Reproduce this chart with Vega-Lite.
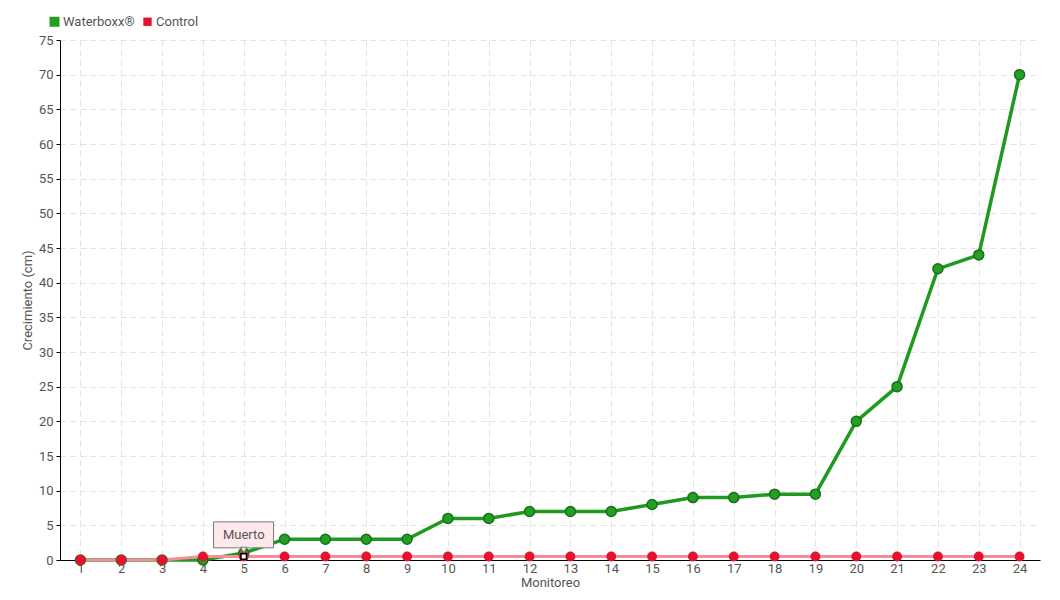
{
  "$schema": "https://vega.github.io/schema/vega-lite/v6.json",
  "width": 980,
  "height": 520,
  "autosize": {"type": "none"},
  "padding": {"left": 60, "top": 40, "right": 20, "bottom": 40},
  "background": "white",
  "config": {
    "font": "Roboto",
    "view": {"stroke": null},
    "axis": {"labelFont": "Roboto", "titleFont": "Roboto", "labelColor": "#555", "titleColor": "#555", "labelFontSize": 13, "titleFontSize": 13, "titleFontWeight": "normal", "gridColor": "#e3e3e3", "gridDash": [6, 4], "gridWidth": 1, "domainColor": "#000", "tickColor": "#000"}
  },
  "datasets": {
    "main": [
      {"Monitoreo": 1, "Serie": "Waterboxx®", "Valor": 0},
      {"Monitoreo": 2, "Serie": "Waterboxx®", "Valor": 0},
      {"Monitoreo": 3, "Serie": "Waterboxx®", "Valor": 0},
      {"Monitoreo": 4, "Serie": "Waterboxx®", "Valor": 0},
      {"Monitoreo": 5, "Serie": "Waterboxx®", "Valor": 1},
      {"Monitoreo": 6, "Serie": "Waterboxx®", "Valor": 3},
      {"Monitoreo": 7, "Serie": "Waterboxx®", "Valor": 3},
      {"Monitoreo": 8, "Serie": "Waterboxx®", "Valor": 3},
      {"Monitoreo": 9, "Serie": "Waterboxx®", "Valor": 3},
      {"Monitoreo": 10, "Serie": "Waterboxx®", "Valor": 6},
      {"Monitoreo": 11, "Serie": "Waterboxx®", "Valor": 6},
      {"Monitoreo": 12, "Serie": "Waterboxx®", "Valor": 7},
      {"Monitoreo": 13, "Serie": "Waterboxx®", "Valor": 7},
      {"Monitoreo": 14, "Serie": "Waterboxx®", "Valor": 7},
      {"Monitoreo": 15, "Serie": "Waterboxx®", "Valor": 8},
      {"Monitoreo": 16, "Serie": "Waterboxx®", "Valor": 9},
      {"Monitoreo": 17, "Serie": "Waterboxx®", "Valor": 9},
      {"Monitoreo": 18, "Serie": "Waterboxx®", "Valor": 9.5},
      {"Monitoreo": 19, "Serie": "Waterboxx®", "Valor": 9.5},
      {"Monitoreo": 20, "Serie": "Waterboxx®", "Valor": 20},
      {"Monitoreo": 21, "Serie": "Waterboxx®", "Valor": 25},
      {"Monitoreo": 22, "Serie": "Waterboxx®", "Valor": 42},
      {"Monitoreo": 23, "Serie": "Waterboxx®", "Valor": 44},
      {"Monitoreo": 24, "Serie": "Waterboxx®", "Valor": 70},
      {"Monitoreo": 1, "Serie": "Control", "Valor": 0},
      {"Monitoreo": 2, "Serie": "Control", "Valor": 0},
      {"Monitoreo": 3, "Serie": "Control", "Valor": 0},
      {"Monitoreo": 4, "Serie": "Control", "Valor": 0.5},
      {"Monitoreo": 5, "Serie": "Control", "Valor": 0.5},
      {"Monitoreo": 6, "Serie": "Control", "Valor": 0.5},
      {"Monitoreo": 7, "Serie": "Control", "Valor": 0.5},
      {"Monitoreo": 8, "Serie": "Control", "Valor": 0.5},
      {"Monitoreo": 9, "Serie": "Control", "Valor": 0.5},
      {"Monitoreo": 10, "Serie": "Control", "Valor": 0.5},
      {"Monitoreo": 11, "Serie": "Control", "Valor": 0.5},
      {"Monitoreo": 12, "Serie": "Control", "Valor": 0.5},
      {"Monitoreo": 13, "Serie": "Control", "Valor": 0.5},
      {"Monitoreo": 14, "Serie": "Control", "Valor": 0.5},
      {"Monitoreo": 15, "Serie": "Control", "Valor": 0.5},
      {"Monitoreo": 16, "Serie": "Control", "Valor": 0.5},
      {"Monitoreo": 17, "Serie": "Control", "Valor": 0.5},
      {"Monitoreo": 18, "Serie": "Control", "Valor": 0.5},
      {"Monitoreo": 19, "Serie": "Control", "Valor": 0.5},
      {"Monitoreo": 20, "Serie": "Control", "Valor": 0.5},
      {"Monitoreo": 21, "Serie": "Control", "Valor": 0.5},
      {"Monitoreo": 22, "Serie": "Control", "Valor": 0.5},
      {"Monitoreo": 23, "Serie": "Control", "Valor": 0.5},
      {"Monitoreo": 24, "Serie": "Control", "Valor": 0.5}
    ],
    "note": [
      {"x1": 4.26, "x2": 5.73, "y1": 1.75, "y2": 5.5, "xm": 5, "ym": 3.6, "label": "Muerto", "yp": 1.45, "yd": 0.5}
    ]
  },
  "encoding": {
    "x": {"type": "quantitative", "scale": {"domain": [0.5, 24.5], "nice": false, "zero": false},
      "axis": {"values": [1,2,3,4,5,6,7,8,9,10,11,12,13,14,15,16,17,18,19,20,21,22,23,24], "tickCount": 30, "title": "Monitoreo", "ticks": false, "labelPadding": 2, "titlePadding": 1, "grid": true}},
    "y": {"type": "quantitative", "scale": {"domain": [0, 75], "nice": false, "zero": true},
      "axis": {"values": [0,5,10,15,20,25,30,35,40,45,50,55,60,65,70,75], "tickCount": 20, "title": "Crecimiento (cm)", "tickSize": 4, "labelPadding": 3, "titlePadding": 4, "grid": true, "labelOverlap": false}}
  },
  "layer": [
    {
      "data": {"name": "main"},
      "transform": [{"filter": "datum.Serie === 'Waterboxx®'"}],
      "mark": {"type": "line", "color": "#1f9a1f", "strokeWidth": 3.5},
      "encoding": {
        "x": {"field": "Monitoreo"},
        "y": {"field": "Valor"}
      }
    },
    {
      "data": {"name": "main"},
      "transform": [{"filter": "datum.Serie === 'Control'"}],
      "mark": {"type": "line", "color": "#f58d98", "strokeWidth": 3},
      "encoding": {
        "x": {"field": "Monitoreo"},
        "y": {"field": "Valor"}
      }
    },
    {
      "data": {"name": "main"},
      "mark": {"type": "point", "filled": true, "opacity": 1, "strokeWidth": 1.5},
      "encoding": {
        "x": {"field": "Monitoreo"},
        "y": {"field": "Valor"},
        "order": {"field": "Serie", "sort": "descending"},
        "size": {"field": "Serie", "type": "nominal", "scale": {"domain": ["Waterboxx®", "Control"], "range": [100, 70]}, "legend": null},
        "color": {"field": "Serie", "type": "nominal", "scale": {"domain": ["Waterboxx®", "Control"], "range": ["#23a023", "#e8112d"]},
          "legend": {"title": null, "orient": "none", "legendX": -12, "legendY": -25, "direction": "horizontal", "symbolType": "square", "symbolSize": 36, "symbolStrokeWidth": 0, "labelFontSize": 13, "labelColor": "#555", "labelFont": "Roboto", "columnPadding": 6, "symbolOffset": 0, "labelOffset": 2}},
        "stroke": {"field": "Serie", "type": "nominal", "scale": {"domain": ["Waterboxx®", "Control"], "range": ["#1b6e1b", "#e8112d"]}, "legend": null}
      }
    },
    {
      "data": {"name": "note"},
      "mark": {"type": "point", "shape": "square", "filled": true, "fill": "white", "stroke": "black", "strokeWidth": 1.5, "size": 30, "opacity": 1},
      "encoding": {
        "x": {"field": "xm"},
        "y": {"field": "yd"}
      }
    },
    {
      "data": {"name": "note"},
      "mark": {"type": "rect", "fill": "#fde9eb", "stroke": "#777", "strokeWidth": 1},
      "encoding": {
        "x": {"field": "x1"},
        "x2": {"field": "x2"},
        "y": {"field": "y1"},
        "y2": {"field": "y2"}
      }
    },
    {
      "data": {"name": "note"},
      "mark": {"type": "point", "shape": "triangle-down", "filled": true, "fill": "#fde9eb", "stroke": "#777", "strokeWidth": 1, "size": 40, "opacity": 1},
      "encoding": {
        "x": {"field": "xm"},
        "y": {"field": "yp"}
      }
    },
    {
      "data": {"name": "note"},
      "mark": {"type": "text", "fontSize": 13, "color": "#555", "font": "Roboto", "baseline": "middle", "align": "center"},
      "encoding": {
        "x": {"field": "xm"},
        "y": {"field": "ym"},
        "text": {"field": "label"}
      }
    }
  ]
}
